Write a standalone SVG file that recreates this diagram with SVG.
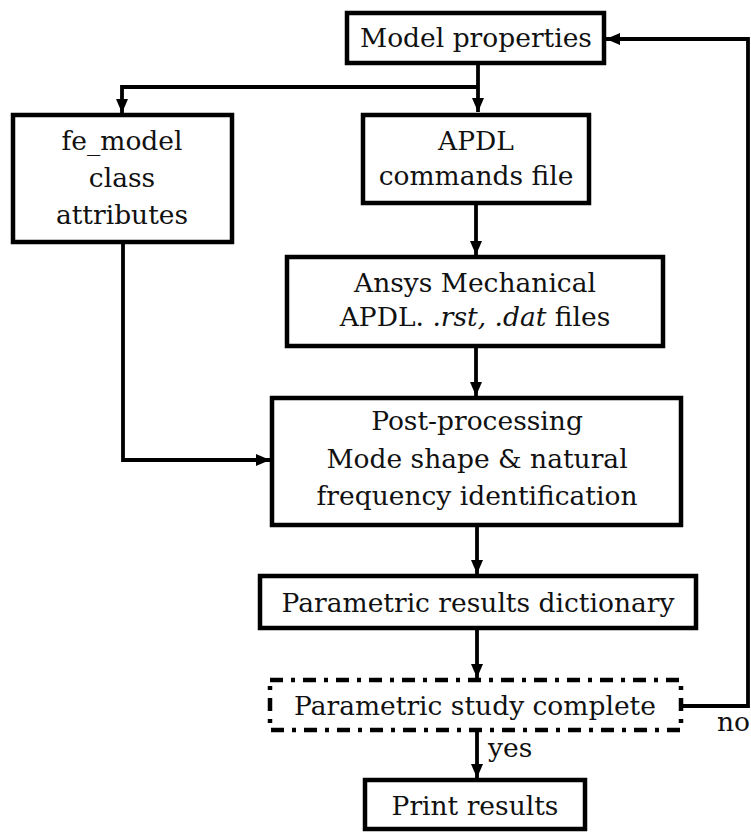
<svg xmlns="http://www.w3.org/2000/svg" width="751" height="833" viewBox="0 0 751 833">
<defs>
<marker id="ah" markerUnits="userSpaceOnUse" markerWidth="16" markerHeight="16" viewBox="0 0 16 16" refX="14" refY="8" orient="auto">
<path d="M0,2 L14,8 L0,14 Z" fill="#000"/>
</marker>
<style>
.box{fill:#fff;stroke:#000;stroke-width:4.5}
.dash{fill:#fff;stroke:#000;stroke-width:4.5;stroke-dasharray:13 8 4 8}
text{font-family:'DejaVu Serif','Liberation Serif',serif;font-size:26.5px;fill:#111}
.t{text-anchor:middle}
.c{fill:none;stroke:#000;stroke-width:3.8}
</style>
</defs>
<rect width="751" height="833" fill="#fff"/>
<g id="connectors">
<path class="c" d="M478,63 V112" marker-end="url(#ah)"/>
<path class="c" d="M478,87 H122 V113" marker-end="url(#ah)"/>
<path class="c" d="M476,203 V255" marker-end="url(#ah)"/>
<path class="c" d="M476,346 V396" marker-end="url(#ah)"/>
<path class="c" d="M123,242 V460 H270" marker-end="url(#ah)"/>
<path class="c" d="M477,525 V574" marker-end="url(#ah)"/>
<path class="c" d="M477,628 V678" marker-end="url(#ah)"/>
<path class="c" d="M477,730 V778" marker-end="url(#ah)"/>
<path class="c" d="M681,706 H748 V39 H606" marker-end="url(#ah)"/>
<text x="488" y="757">yes</text>
<text x="717" y="731">no</text>
</g>
<g id="model-properties">
<rect class="box" x="347" y="13" width="257" height="50"/>
<text class="t" x="476" y="47">Model properties</text>
</g>
<g id="fe-model">
<rect class="box" x="13" y="115" width="219" height="127"/>
<text class="t" x="122" y="150">fe_model</text>
<text class="t" x="122" y="187">class</text>
<text class="t" x="122" y="224">attributes</text>
</g>
<g id="apdl-commands">
<rect class="box" x="363" y="115" width="226" height="88"/>
<text class="t" x="476" y="150">APDL</text>
<text class="t" x="476" y="185">commands file</text>
</g>
<g id="ansys">
<rect class="box" x="287" y="257" width="376" height="89"/>
<text class="t" x="475" y="292">Ansys Mechanical</text>
<text class="t" x="475" y="326">APDL. <tspan font-style="italic">.rst, .dat</tspan> files</text>
</g>
<g id="post-processing">
<rect class="box" x="272" y="398" width="409" height="127"/>
<text class="t" x="477" y="430">Post-processing</text>
<text class="t" x="477" y="468">Mode shape &amp; natural</text>
<text class="t" x="477" y="505">frequency identification</text>
</g>
<g id="results-dictionary">
<rect class="box" x="260" y="576" width="436" height="52"/>
<text class="t" x="478" y="612">Parametric results dictionary</text>
</g>
<g id="study-complete">
<rect class="dash" x="270" y="680" width="411" height="50"/>
<text class="t" x="475" y="715">Parametric study complete</text>
</g>
<g id="print-results">
<rect class="box" x="365" y="780" width="220" height="49"/>
<text class="t" x="475" y="815">Print results</text>
</g>
</svg>
